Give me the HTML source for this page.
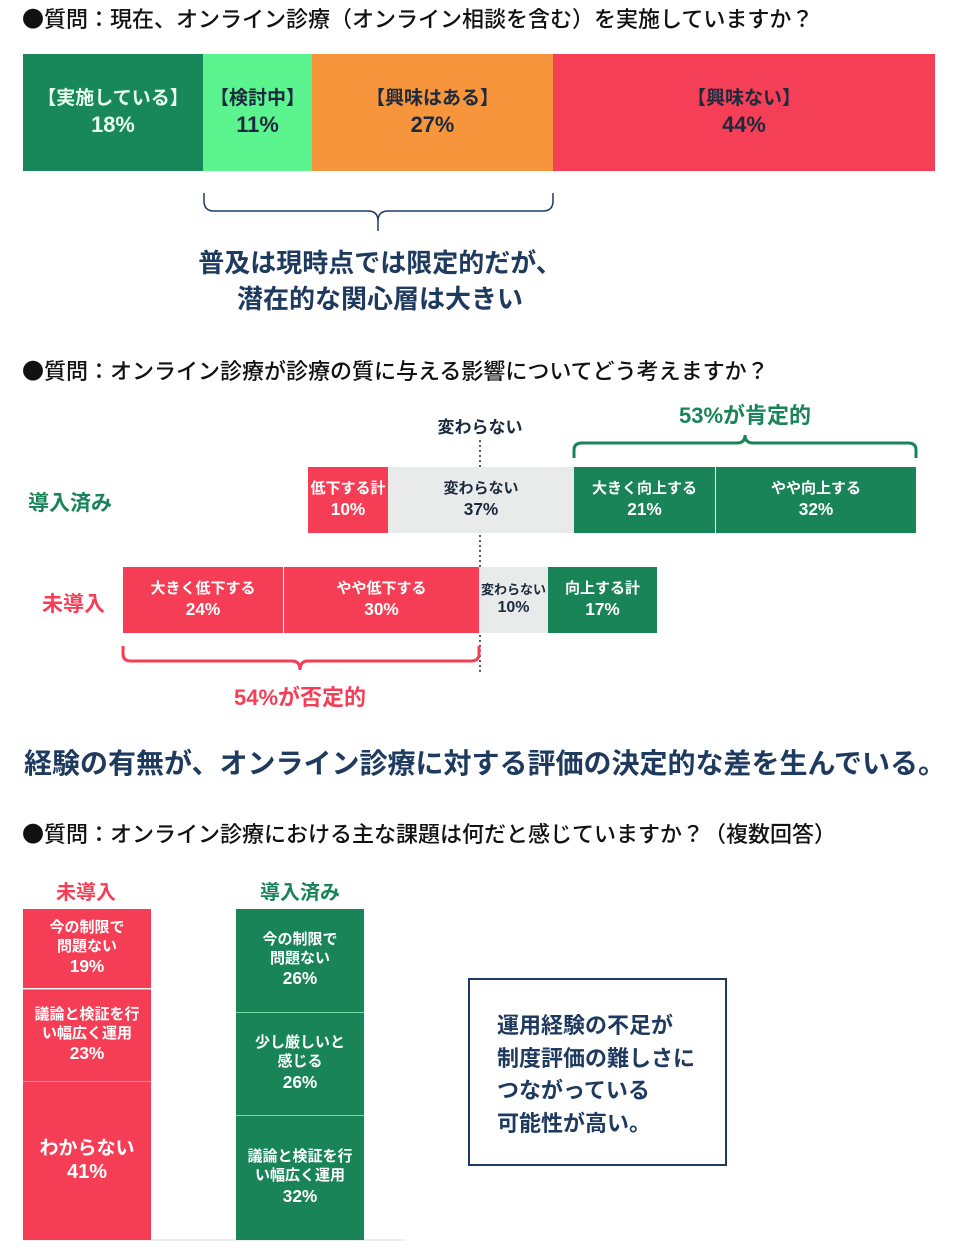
<!DOCTYPE html>
<html><head><meta charset="utf-8"><style>
*{margin:0;padding:0;box-sizing:border-box}
body{width:954px;height:1260px;background:#fff;position:relative;overflow:hidden;font-family:"Liberation Sans","Noto Sans CJK JP",sans-serif;color:#1b2a3d}
.a{position:absolute}
.t{font-size:22px;line-height:28px;white-space:nowrap;color:#111;font-weight:500;font-family:"Noto Sans CJK JP",sans-serif}
.seg{position:absolute;display:flex;flex-direction:column;align-items:center;justify-content:center;text-align:center;font-weight:bold;line-height:1.25;white-space:nowrap}
.seg span{font-size:1.15em}
.g{background:#188457;color:#fff}.r{background:#f53e56;color:#fff}.gr{background:#e9ebeb;color:#1b2a3d}
.b{font-weight:bold}
</style></head><body>
<div class="a t" style="left:22px;top:4px">●質問：現在、オンライン診療（オンライン相談を含む）を実施していますか？</div>
<div class="seg" style="left:23px;top:54px;width:180px;height:117px;background:#18885a;color:#e6fff0;font-size:19px">【実施している】<span>18%</span></div>
<div class="seg" style="left:203px;top:54px;width:109px;height:117px;background:#5cf48f;color:#1b2a3d;font-size:19px">【検討中】<span>11%</span></div>
<div class="seg" style="left:312px;top:54px;width:241px;height:117px;background:#f7953c;color:#1b2a3d;font-size:19px">【興味はある】<span>27%</span></div>
<div class="seg" style="left:553px;top:54px;width:382px;height:117px;background:#f53f57;color:#1b2a3d;font-size:19px">【興味ない】<span>44%</span></div>
<svg class="a" style="left:0;top:0" width="954" height="1260">
<path d="M204 193 v8 q0 10 10 10 h154 q10 0 10 10 v10 M378 221 q0 -10 10 -10 h155 q10 0 10 -10 v-8" fill="none" stroke="#1f3a5f" stroke-width="1.5"/>
<line x1="480" y1="440" x2="480" y2="675" stroke="#222" stroke-width="1.5" stroke-dasharray="2,3"/>
<path d="M574 458 v-8 q0 -7 8 -7 h155 q8 0 8 -8 q0 8 8 8 h155 q8 0 8 7 v8" fill="none" stroke="#188457" stroke-width="3"/>
<path d="M123 646 v8 q0 7 8 7 h161 q8 0 8 9 q0 -9 8 -9 h163 q8 0 8 -7 v-8" fill="none" stroke="#f53e56" stroke-width="3"/>
<line x1="23" y1="1240" x2="406" y2="1240" stroke="#ddd" stroke-width="1"/>
</svg>
<div class="a b" style="left:0;width:760px;top:245px;text-align:center;font-size:26px;line-height:36px;color:#1f3a5f">普及は現時点では限定的だが、<br>潜在的な関心層は大きい</div>
<div class="a t" style="left:22px;top:356px">●質問：オンライン診療が診療の質に与える影響についてどう考えますか？</div>
<div class="a b" style="left:430px;top:413px;width:100px;text-align:center;font-size:17px">変わらない</div>
<div class="a b" style="left:665px;top:398px;width:160px;text-align:center;font-size:22px;color:#188457">53%が肯定的</div>
<div class="a b" style="left:28px;top:487px;font-size:21px;color:#188457">導入済み</div>
<div class="seg r" style="left:308px;top:467px;width:80px;height:66px;font-size:15px">低下する計<span>10%</span></div>
<div class="seg gr" style="left:388px;top:467px;width:186px;height:66px;font-size:15px">変わらない<span>37%</span></div>
<div class="seg g" style="left:574px;top:467px;width:141px;height:66px;font-size:15px">大きく向上する<span>21%</span></div>
<div class="seg g" style="left:716px;top:467px;width:200px;height:66px;font-size:15px">やや向上する<span>32%</span></div>
<div class="a b" style="left:42px;top:588px;font-size:21px;color:#f53e56">未導入</div>
<div class="seg r" style="left:123px;top:567px;width:160px;height:66px;font-size:15px">大きく低下する<span>24%</span></div>
<div class="seg r" style="left:284px;top:567px;width:195px;height:66px;font-size:15px">やや低下する<span>30%</span></div>
<div class="seg gr" style="left:479px;top:567px;width:69px;height:66px;font-size:13px">変わらない<span style="font-size:16px">10%</span></div>
<div class="seg g" style="left:548px;top:567px;width:109px;height:66px;font-size:15px">向上する計<span>17%</span></div>
<div class="a b" style="left:200px;top:680px;width:200px;text-align:center;font-size:22px;color:#f53e56">54%が否定的</div>
<div class="a b" style="left:24px;top:742px;font-size:28px;color:#1f3a5f;white-space:nowrap">経験の有無が、オンライン診療に対する評価の決定的な差を生んでいる。</div>
<div class="a t" style="left:22px;top:819px">●質問：オンライン診療における主な課題は何だと感じていますか？（複数回答）</div>
<div class="a b" style="left:36px;top:876px;width:100px;text-align:center;font-size:20px;color:#f53e56">未導入</div>
<div class="a b" style="left:250px;top:876px;width:100px;text-align:center;font-size:20px;color:#188457">導入済み</div>
<div class="seg r" style="left:23px;top:909px;width:128px;height:79px;font-size:15px">今の制限で<br>問題ない<span>19%</span></div>
<div class="seg r" style="left:23px;top:989px;width:128px;height:92px;font-size:15px;border-top:1px solid #ff8a99">議論と検証を行<br>い幅広く運用<span>23%</span></div>
<div class="seg r" style="left:23px;top:1081px;width:128px;height:159px;font-size:19px;border-top:1px solid #ff8a99">わからない<span style="font-size:20px">41%</span></div>
<div class="seg g" style="left:236px;top:909px;width:128px;height:103px;font-size:15px">今の制限で<br>問題ない<span>26%</span></div>
<div class="seg g" style="left:236px;top:1012px;width:128px;height:103px;font-size:15px;border-top:1px solid #6fe0a8">少し厳しいと<br>感じる<span>26%</span></div>
<div class="seg g" style="left:236px;top:1115px;width:128px;height:125px;font-size:15px;border-top:1px solid #6fe0a8">議論と検証を行<br>い幅広く運用<span>32%</span></div>
<div class="a b" style="left:468px;top:978px;width:259px;height:188px;border:2px solid #1f3a5f;padding:30px 0 0 27px;font-size:22px;line-height:32.5px;color:#1f3a5f;white-space:nowrap">運用経験の不足が<br>制度評価の難しさに<br>つながっている<br>可能性が高い。</div>
</body></html>
